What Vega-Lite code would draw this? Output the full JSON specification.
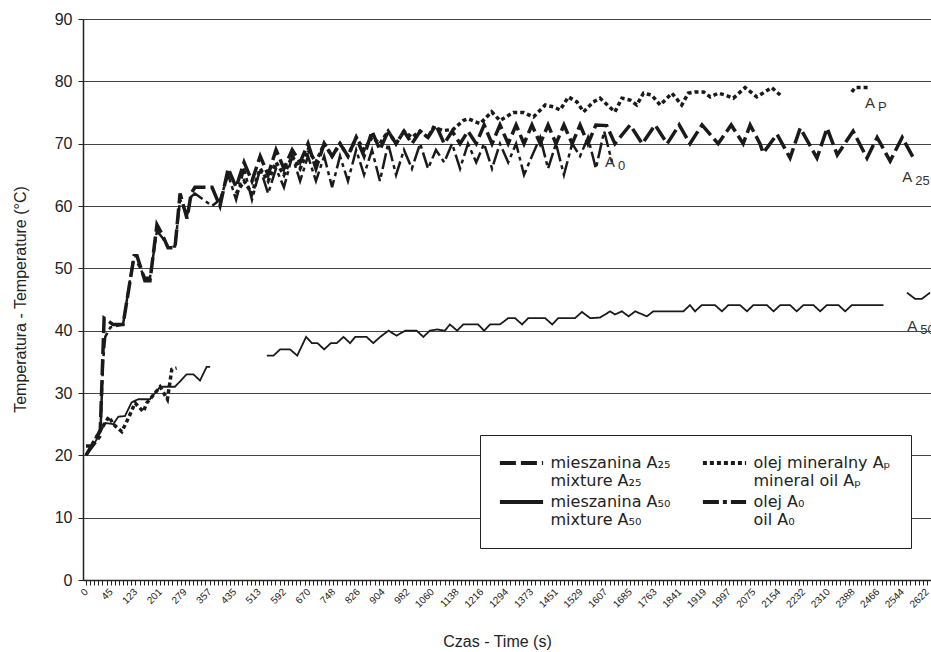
{
"$schema": "https://vega.github.io/schema/vega-lite/v6.json",
"width": 848, "height": 561,
"autosize": {"type": "none"},
"padding": {"left": 83, "top": 19, "right": 0, "bottom": 72},
"background": "white",
"config": {"view": {"stroke": null}, "font": "Liberation Sans"},
"encoding": {
  "x": {"field": "t", "type": "quantitative",
    "scale": {"domain": [-5.5, 45, 2635], "range": [0, 27.7, 848], "nice": false, "zero": false},
    "axis": {"values": [0,7.5,15,22.5,30,37.5,45,58,71,84,97,110,123,136,149,162,175,188,201,214,227,240,253,266,279,292,305,318,331,344,357,370,383,396,409,422,435,448,461,474,487,500,513,526,539,552,565,578,592,605,618,631,644,657,670,683,696,709,722,735,748,761,774,787,800,813,826,839,852,865,878,891,904,917,930,943,956,969,982,995,1008,1021,1034,1047,1060,1073,1086,1099,1112,1125,1138,1151,1164,1177,1190,1203,1216,1229,1242,1255,1268,1281,1294,1307,1320,1334,1347,1360,1373,1386,1399,1412,1425,1438,1451,1464,1477,1490,1503,1516,1529,1542,1555,1568,1581,1594,1607,1620,1633,1646,1659,1672,1685,1698,1711,1724,1737,1750,1763,1776,1789,1802,1815,1828,1841,1854,1867,1880,1893,1906,1919,1932,1945,1958,1971,1984,1997,2010,2023,2036,2049,2062,2075,2088,2101,2114,2128,2141,2154,2167,2180,2193,2206,2219,2232,2245,2258,2271,2284,2297,2310,2323,2336,2349,2362,2375,2388,2401,2414,2427,2440,2453,2466,2479,2492,2505,2518,2531,2544,2557,2570,2583,2596,2609,2622],
      "labelExpr": "indexof([0,45,123,201,279,357,435,513,592,670,748,826,904,982,1060,1138,1216,1294,1373,1451,1529,1607,1685,1763,1841,1919,1997,2075,2154,2232,2310,2388,2466,2544,2622], datum.value) >= 0 ? '' + datum.value : ''",
      "labelAngle": -45, "labelAlign": "right", "labelBaseline": "middle", "labelFontSize": 10, "labelOverlap": false, "labelBound": false, "labelFlush": false, "labelPadding": 5,
      "labelColor": "#222", "tickSize": 5, "tickColor": "#222", "domainColor": "#222", "domainWidth": 1.5, "grid": false,
      "title": "Czas  -  Time (s)", "titleFontSize": 16, "titleFontWeight": "normal", "titleColor": "#222",
      "titleX": 414, "titleY": 66, "titleAlign": "center", "titleBaseline": "alphabetic"}},
  "y": {"field": "v", "type": "quantitative",
    "scale": {"domain": [0, 90], "nice": false, "zero": true},
    "axis": {"values": [0,10,20,30,40,50,60,70,80,90], "grid": true, "gridColor": "#444", "gridWidth": 1,
      "tickSize": 5, "tickColor": "#222", "domainColor": "#222", "domainWidth": 1.5,
      "labelFontSize": 16, "labelPadding": 6, "labelColor": "#222",
      "title": "Temperatura - Temperature (°C)", "titleFontSize": 16, "titleFontWeight": "normal", "titleColor": "#222",
      "titleX": -63, "titleY": 280, "titleAngle": -90, "titleAlign": "center", "titleBaseline": "middle"}}
},
"data": {"values": [
{"s":"A25","g":1,"t":0,"v":20},{"s":"A25","g":1,"t":26,"v":24},{"s":"A25","g":1,"t":33,"v":42},{"s":"A25","g":1,"t":52,"v":41},{"s":"A25","g":1,"t":84,"v":41},{"s":"A25","g":1,"t":119,"v":52},{"s":"A25","g":1,"t":128,"v":52},{"s":"A25","g":1,"t":153,"v":48},{"s":"A25","g":1,"t":169,"v":48},{"s":"A25","g":1,"t":191,"v":57},{"s":"A25","g":1,"t":207,"v":55.5},{"s":"A25","g":1,"t":226,"v":53.3},{"s":"A25","g":1,"t":248,"v":53.3},{"s":"A25","g":1,"t":264,"v":62},{"s":"A25","g":1,"t":286,"v":58},{"s":"A25","g":1,"t":299,"v":62},{"s":"A25","g":1,"t":311,"v":63},{"s":"A25","g":1,"t":365,"v":63},{"s":"A25","g":1,"t":390,"v":60},{"s":"A25","g":1,"t":416,"v":66},{"s":"A25","g":1,"t":441,"v":63},{"s":"A25","g":1,"t":466,"v":67},{"s":"A25","g":1,"t":491,"v":64},{"s":"A25","g":1,"t":517,"v":68},{"s":"A25","g":1,"t":542,"v":65},{"s":"A25","g":1,"t":567,"v":69},{"s":"A25","g":1,"t":592,"v":66},{"s":"A25","g":1,"t":618,"v":69},{"s":"A25","g":1,"t":643,"v":67},{"s":"A25","g":1,"t":668,"v":70},{"s":"A25","g":1,"t":693,"v":66},{"s":"A25","g":1,"t":719,"v":70},{"s":"A25","g":1,"t":744,"v":68},{"s":"A25","g":1,"t":769,"v":70},{"s":"A25","g":1,"t":794,"v":68},{"s":"A25","g":1,"t":820,"v":71},{"s":"A25","g":1,"t":845,"v":68},{"s":"A25","g":1,"t":870,"v":72},{"s":"A25","g":1,"t":895,"v":69},{"s":"A25","g":1,"t":921,"v":72},{"s":"A25","g":1,"t":946,"v":70},{"s":"A25","g":1,"t":971,"v":72},{"s":"A25","g":1,"t":996,"v":70},{"s":"A25","g":1,"t":1022,"v":72},{"s":"A25","g":1,"t":1047,"v":71},{"s":"A25","g":1,"t":1072,"v":73},{"s":"A25","g":1,"t":1098,"v":70},{"s":"A25","g":1,"t":1123,"v":72},{"s":"A25","g":1,"t":1148,"v":70},{"s":"A25","g":1,"t":1173,"v":72},{"s":"A25","g":1,"t":1199,"v":70},{"s":"A25","g":1,"t":1224,"v":73},{"s":"A25","g":1,"t":1249,"v":70},{"s":"A25","g":1,"t":1274,"v":73},{"s":"A25","g":1,"t":1300,"v":70},{"s":"A25","g":1,"t":1325,"v":73},{"s":"A25","g":1,"t":1350,"v":70},{"s":"A25","g":1,"t":1375,"v":73},{"s":"A25","g":1,"t":1401,"v":70},{"s":"A25","g":1,"t":1426,"v":73},{"s":"A25","g":1,"t":1451,"v":70},{"s":"A25","g":1,"t":1476,"v":73},{"s":"A25","g":1,"t":1502,"v":70},{"s":"A25","g":1,"t":1527,"v":73},{"s":"A25","g":1,"t":1552,"v":70},{"s":"A25","g":1,"t":1577,"v":73},{"s":"A25","g":1,"t":1611,"v":72.9},{"s":"A25","g":1,"t":1637,"v":70},{"s":"A25","g":1,"t":1685,"v":73},{"s":"A25","g":1,"t":1723,"v":70},{"s":"A25","g":1,"t":1764,"v":73},{"s":"A25","g":1,"t":1802,"v":70},{"s":"A25","g":1,"t":1840,"v":73},{"s":"A25","g":1,"t":1874,"v":70},{"s":"A25","g":1,"t":1912,"v":73},{"s":"A25","g":1,"t":1963,"v":70},{"s":"A25","g":1,"t":2004,"v":73},{"s":"A25","g":1,"t":2042,"v":70},{"s":"A25","g":1,"t":2064,"v":73},{"s":"A25","g":1,"t":2095,"v":70},{"s":"A25","g":1,"t":2105,"v":68.5},{"s":"A25","g":1,"t":2149,"v":71.5},{"s":"A25","g":1,"t":2190,"v":67.7},{"s":"A25","g":1,"t":2222,"v":72.5},{"s":"A25","g":1,"t":2275,"v":67.7},{"s":"A25","g":1,"t":2307,"v":72.5},{"s":"A25","g":1,"t":2339,"v":68.2},{"s":"A25","g":1,"t":2389,"v":72},{"s":"A25","g":1,"t":2433,"v":67.7},{"s":"A25","g":1,"t":2465,"v":71},{"s":"A25","g":1,"t":2506,"v":67.2},{"s":"A25","g":1,"t":2544,"v":71},{"s":"A25","g":1,"t":2585,"v":67.2},
{"s":"A0","g":1,"t":0,"v":20},{"s":"A0","g":1,"t":26,"v":23},{"s":"A0","g":1,"t":31,"v":35},{"s":"A0","g":1,"t":35,"v":39},{"s":"A0","g":1,"t":44,"v":40.5},{"s":"A0","g":1,"t":84,"v":41},{"s":"A0","g":1,"t":115,"v":51},{"s":"A0","g":1,"t":128,"v":51},{"s":"A0","g":1,"t":153,"v":48.5},{"s":"A0","g":1,"t":169,"v":48.5},{"s":"A0","g":1,"t":191,"v":56},{"s":"A0","g":1,"t":207,"v":55},{"s":"A0","g":1,"t":226,"v":53.5},{"s":"A0","g":1,"t":248,"v":53.5},{"s":"A0","g":1,"t":264,"v":61},{"s":"A0","g":1,"t":286,"v":58.5},{"s":"A0","g":1,"t":299,"v":61.5},{"s":"A0","g":1,"t":311,"v":62},{"s":"A0","g":1,"t":365,"v":60},{"s":"A0","g":1,"t":390,"v":61},{"s":"A0","g":1,"t":416,"v":65},{"s":"A0","g":1,"t":441,"v":61},{"s":"A0","g":1,"t":466,"v":66},{"s":"A0","g":1,"t":491,"v":61},{"s":"A0","g":1,"t":517,"v":66},{"s":"A0","g":1,"t":542,"v":62},{"s":"A0","g":1,"t":567,"v":66},{"s":"A0","g":1,"t":592,"v":63},{"s":"A0","g":1,"t":618,"v":68},{"s":"A0","g":1,"t":643,"v":64},{"s":"A0","g":1,"t":668,"v":68},{"s":"A0","g":1,"t":693,"v":64},{"s":"A0","g":1,"t":719,"v":68},{"s":"A0","g":1,"t":744,"v":63},{"s":"A0","g":1,"t":769,"v":68},{"s":"A0","g":1,"t":794,"v":64},{"s":"A0","g":1,"t":820,"v":69},{"s":"A0","g":1,"t":845,"v":65},{"s":"A0","g":1,"t":870,"v":69},{"s":"A0","g":1,"t":895,"v":64},{"s":"A0","g":1,"t":921,"v":70},{"s":"A0","g":1,"t":946,"v":65},{"s":"A0","g":1,"t":971,"v":69},{"s":"A0","g":1,"t":996,"v":66},{"s":"A0","g":1,"t":1022,"v":70},{"s":"A0","g":1,"t":1047,"v":66},{"s":"A0","g":1,"t":1072,"v":69},{"s":"A0","g":1,"t":1098,"v":67},{"s":"A0","g":1,"t":1123,"v":70},{"s":"A0","g":1,"t":1148,"v":66},{"s":"A0","g":1,"t":1173,"v":70},{"s":"A0","g":1,"t":1199,"v":67},{"s":"A0","g":1,"t":1224,"v":70},{"s":"A0","g":1,"t":1249,"v":66},{"s":"A0","g":1,"t":1274,"v":70},{"s":"A0","g":1,"t":1300,"v":67},{"s":"A0","g":1,"t":1325,"v":70},{"s":"A0","g":1,"t":1350,"v":65},{"s":"A0","g":1,"t":1375,"v":68},{"s":"A0","g":1,"t":1401,"v":71},{"s":"A0","g":1,"t":1426,"v":66},{"s":"A0","g":1,"t":1451,"v":70},{"s":"A0","g":1,"t":1476,"v":65},{"s":"A0","g":1,"t":1502,"v":70},{"s":"A0","g":1,"t":1527,"v":68},{"s":"A0","g":1,"t":1552,"v":71},{"s":"A0","g":1,"t":1577,"v":66},{"s":"A0","g":1,"t":1603,"v":72},{"s":"A0","g":1,"t":1628,"v":67},
{"s":"AP","g":1,"t":0,"v":21.5},{"s":"AP","g":1,"t":10,"v":21.5},{"s":"AP","g":1,"t":26,"v":24},{"s":"AP","g":1,"t":42,"v":26.2},{"s":"AP","g":1,"t":53,"v":25},{"s":"AP","g":1,"t":80,"v":23.8},{"s":"AP","g":1,"t":101,"v":26},{"s":"AP","g":1,"t":122,"v":28.4},{"s":"AP","g":1,"t":148,"v":27},{"s":"AP","g":1,"t":159,"v":28.4},{"s":"AP","g":1,"t":201,"v":31},{"s":"AP","g":1,"t":224,"v":29},{"s":"AP","g":1,"t":238,"v":33.8},{"s":"AP","g":1,"t":253,"v":34},
{"s":"AP","g":2,"t":441,"v":62},{"s":"AP","g":2,"t":466,"v":64},{"s":"AP","g":2,"t":491,"v":62},{"s":"AP","g":2,"t":517,"v":66},{"s":"AP","g":2,"t":542,"v":64},{"s":"AP","g":2,"t":567,"v":67},{"s":"AP","g":2,"t":592,"v":65},{"s":"AP","g":2,"t":618,"v":68},{"s":"AP","g":2,"t":643,"v":66},{"s":"AP","g":2,"t":668,"v":69},{"s":"AP","g":2,"t":693,"v":67},{"s":"AP","g":2,"t":719,"v":70},{"s":"AP","g":2,"t":744,"v":68},{"s":"AP","g":2,"t":769,"v":70},{"s":"AP","g":2,"t":794,"v":68},{"s":"AP","g":2,"t":820,"v":71},{"s":"AP","g":2,"t":845,"v":69},{"s":"AP","g":2,"t":870,"v":71},{"s":"AP","g":2,"t":895,"v":70},{"s":"AP","g":2,"t":921,"v":72},{"s":"AP","g":2,"t":946,"v":70},{"s":"AP","g":2,"t":971,"v":72},{"s":"AP","g":2,"t":996,"v":71},{"s":"AP","g":2,"t":1022,"v":72},{"s":"AP","g":2,"t":1047,"v":71},{"s":"AP","g":2,"t":1064,"v":72.6},{"s":"AP","g":2,"t":1095,"v":72.1},{"s":"AP","g":2,"t":1127,"v":72.3},{"s":"AP","g":2,"t":1158,"v":73.7},{"s":"AP","g":2,"t":1174,"v":74},{"s":"AP","g":2,"t":1211,"v":73.2},{"s":"AP","g":2,"t":1248,"v":75.1},{"s":"AP","g":2,"t":1274,"v":73.7},{"s":"AP","g":2,"t":1316,"v":75},{"s":"AP","g":2,"t":1348,"v":75},{"s":"AP","g":2,"t":1380,"v":74.3},{"s":"AP","g":2,"t":1417,"v":76.2},{"s":"AP","g":2,"t":1443,"v":75.9},{"s":"AP","g":2,"t":1464,"v":75.4},{"s":"AP","g":2,"t":1490,"v":77.5},{"s":"AP","g":2,"t":1517,"v":76.7},{"s":"AP","g":2,"t":1538,"v":75.1},{"s":"AP","g":2,"t":1569,"v":76.7},{"s":"AP","g":2,"t":1590,"v":77.3},{"s":"AP","g":2,"t":1637,"v":75.1},{"s":"AP","g":2,"t":1659,"v":77.3},{"s":"AP","g":2,"t":1685,"v":77},{"s":"AP","g":2,"t":1706,"v":76.2},{"s":"AP","g":2,"t":1727,"v":78.1},{"s":"AP","g":2,"t":1753,"v":77.8},{"s":"AP","g":2,"t":1780,"v":76.2},{"s":"AP","g":2,"t":1817,"v":78.1},{"s":"AP","g":2,"t":1848,"v":76.2},{"s":"AP","g":2,"t":1869,"v":78.1},{"s":"AP","g":2,"t":1890,"v":78.3},{"s":"AP","g":2,"t":1917,"v":78.3},{"s":"AP","g":2,"t":1938,"v":77.5},{"s":"AP","g":2,"t":1964,"v":78.1},{"s":"AP","g":2,"t":1985,"v":77.8},{"s":"AP","g":2,"t":2011,"v":77.3},{"s":"AP","g":2,"t":2048,"v":79},{"s":"AP","g":2,"t":2085,"v":77.5},{"s":"AP","g":2,"t":2132,"v":79},{"s":"AP","g":2,"t":2159,"v":77.8},
{"s":"AP","g":3,"t":2385,"v":78.3},{"s":"AP","g":3,"t":2395,"v":79},{"s":"AP","g":3,"t":2443,"v":79},
{"s":"A50","g":1,"t":0,"v":20},{"s":"A50","g":1,"t":16,"v":22},{"s":"A50","g":1,"t":35,"v":25.2},{"s":"A50","g":1,"t":53,"v":25},{"s":"A50","g":1,"t":69,"v":26.2},{"s":"A50","g":1,"t":90,"v":26.3},{"s":"A50","g":1,"t":111,"v":28.5},{"s":"A50","g":1,"t":132,"v":29},{"s":"A50","g":1,"t":169,"v":29},{"s":"A50","g":1,"t":201,"v":31},{"s":"A50","g":1,"t":248,"v":31},{"s":"A50","g":1,"t":285,"v":33},{"s":"A50","g":1,"t":306,"v":33},{"s":"A50","g":1,"t":327,"v":32},{"s":"A50","g":1,"t":348,"v":34.2},{"s":"A50","g":1,"t":359,"v":34.2},
{"s":"A50","g":2,"t":538,"v":36},{"s":"A50","g":2,"t":559,"v":36},{"s":"A50","g":2,"t":580,"v":37},{"s":"A50","g":2,"t":611,"v":37},{"s":"A50","g":2,"t":634,"v":36},{"s":"A50","g":2,"t":662,"v":39},{"s":"A50","g":2,"t":680,"v":38},{"s":"A50","g":2,"t":698,"v":38},{"s":"A50","g":2,"t":719,"v":37},{"s":"A50","g":2,"t":740,"v":38},{"s":"A50","g":2,"t":759,"v":38},{"s":"A50","g":2,"t":780,"v":39},{"s":"A50","g":2,"t":801,"v":38},{"s":"A50","g":2,"t":817,"v":39},{"s":"A50","g":2,"t":853,"v":39},{"s":"A50","g":2,"t":874,"v":38},{"s":"A50","g":2,"t":896,"v":39},{"s":"A50","g":2,"t":922,"v":40},{"s":"A50","g":2,"t":948,"v":39.2},{"s":"A50","g":2,"t":975,"v":40},{"s":"A50","g":2,"t":1011,"v":40},{"s":"A50","g":2,"t":1032,"v":39},{"s":"A50","g":2,"t":1053,"v":40},{"s":"A50","g":2,"t":1075,"v":40.2},{"s":"A50","g":2,"t":1100,"v":40},{"s":"A50","g":2,"t":1116,"v":41},{"s":"A50","g":2,"t":1139,"v":40},{"s":"A50","g":2,"t":1158,"v":41},{"s":"A50","g":2,"t":1205,"v":41},{"s":"A50","g":2,"t":1224,"v":40},{"s":"A50","g":2,"t":1243,"v":41},{"s":"A50","g":2,"t":1274,"v":41},{"s":"A50","g":2,"t":1300,"v":42},{"s":"A50","g":2,"t":1322,"v":42},{"s":"A50","g":2,"t":1344,"v":41},{"s":"A50","g":2,"t":1363,"v":42},{"s":"A50","g":2,"t":1417,"v":42},{"s":"A50","g":2,"t":1439,"v":41},{"s":"A50","g":2,"t":1458,"v":42},{"s":"A50","g":2,"t":1511,"v":42},{"s":"A50","g":2,"t":1533,"v":43},{"s":"A50","g":2,"t":1559,"v":42},{"s":"A50","g":2,"t":1590,"v":42.1},{"s":"A50","g":2,"t":1622,"v":43.1},{"s":"A50","g":2,"t":1637,"v":42.6},{"s":"A50","g":2,"t":1659,"v":43.1},{"s":"A50","g":2,"t":1680,"v":42.3},{"s":"A50","g":2,"t":1701,"v":43.1},{"s":"A50","g":2,"t":1738,"v":42.3},{"s":"A50","g":2,"t":1758,"v":43.1},{"s":"A50","g":2,"t":1853,"v":43.1},{"s":"A50","g":2,"t":1874,"v":44.1},{"s":"A50","g":2,"t":1890,"v":43.1},{"s":"A50","g":2,"t":1911,"v":44.1},{"s":"A50","g":2,"t":1953,"v":44.1},{"s":"A50","g":2,"t":1975,"v":43.1},{"s":"A50","g":2,"t":1995,"v":44.1},{"s":"A50","g":2,"t":2032,"v":44.1},{"s":"A50","g":2,"t":2054,"v":43.1},{"s":"A50","g":2,"t":2074,"v":44.1},{"s":"A50","g":2,"t":2117,"v":44.1},{"s":"A50","g":2,"t":2138,"v":43.1},{"s":"A50","g":2,"t":2159,"v":44.1},{"s":"A50","g":2,"t":2190,"v":44.1},{"s":"A50","g":2,"t":2211,"v":43.1},{"s":"A50","g":2,"t":2232,"v":44.1},{"s":"A50","g":2,"t":2264,"v":44.1},{"s":"A50","g":2,"t":2285,"v":43.1},{"s":"A50","g":2,"t":2306,"v":44.1},{"s":"A50","g":2,"t":2343,"v":44.1},{"s":"A50","g":2,"t":2364,"v":43.1},{"s":"A50","g":2,"t":2385,"v":44.1},{"s":"A50","g":2,"t":2485,"v":44.1},
{"s":"A50","g":3,"t":2559,"v":46.1},{"s":"A50","g":3,"t":2585,"v":45.1},{"s":"A50","g":3,"t":2606,"v":45.1},{"s":"A50","g":3,"t":2632,"v":46.1}
]},
"layer": [
  {"transform": [{"filter": "datum.s === 'A50'"}],
   "mark": {"type": "line", "strokeWidth": 1.8, "color": "#1a1a1a", "strokeCap": "butt"},
   "encoding": {"detail": {"field": "g"},
     "strokeDash": {"field": "s", "type": "nominal",
       "scale": {"domain": ["A25", "AP", "A50", "A0"], "range": [[16, 5], [4, 3], [1, 0], [16, 4, 4, 4]]},
       "legend": {"title": null, "orient": "none", "legendX": 397, "legendY": 416, "columns": 2, "direction": "horizontal",
         "symbolType": "M-3.6,0H3.6", "symbolSize": 144, "symbolStrokeWidth": 4, "symbolStrokeColor": "#1a1a1a", "symbolOffset": 13.5,
         "labelFont": "DejaVu Sans", "labelFontSize": 16, "labelColor": "#222", "labelOffset": 21, "labelLimit": 0, "labelBaseline": "middle",
         "columnPadding": 23, "rowPadding": 5, "padding": 20, "strokeColor": "#222", "fillColor": "white",
         "labelExpr": "datum.value === 'A25' ? ['mieszanina A₂₅', 'mixture A₂₅'] : datum.value === 'AP' ? ['olej mineralny Aₚ          ', 'mineral oil Aₚ'] : datum.value === 'A50' ? ['mieszanina A₅₀', 'mixture A₅₀'] : ['olej A₀', 'oil A₀']"}}}},
  {"transform": [{"filter": "datum.s === 'AP'"}],
   "mark": {"type": "line", "strokeWidth": 3.5, "color": "#1a1a1a", "strokeCap": "butt"},
   "encoding": {"detail": {"field": "g"}, "strokeDash": {"field": "s", "type": "nominal"}}},
  {"transform": [{"filter": "datum.s === 'A0'"}],
   "mark": {"type": "line", "strokeWidth": 2.5, "color": "#1a1a1a", "strokeCap": "butt"},
   "encoding": {"detail": {"field": "g"}, "strokeDash": {"field": "s", "type": "nominal"}}},
  {"transform": [{"filter": "datum.s === 'A25'"}],
   "mark": {"type": "line", "strokeWidth": 3.5, "color": "#1a1a1a", "strokeCap": "butt"},
   "encoding": {"detail": {"field": "g"}, "strokeDash": {"field": "s", "type": "nominal"}}},
  {"data": {"values": [
     {"t": 2427, "v": 76.5, "m": "A", "sub": "P"},
     {"t": 1606, "v": 67.1, "m": "A", "sub": "0"},
     {"t": 2544, "v": 64.7, "m": "A", "sub": "25"},
     {"t": 2560, "v": 40.8, "m": "A", "sub": "50"}]},
   "mark": {"type": "text", "align": "left", "baseline": "middle", "fontSize": 15, "color": "#333"},
   "encoding": {"text": {"field": "m"}}},
  {"data": {"values": [
     {"t": 2427, "v": 76.5, "m": "A", "sub": "P"},
     {"t": 1606, "v": 67.1, "m": "A", "sub": "0"},
     {"t": 2544, "v": 64.7, "m": "A", "sub": "25"},
     {"t": 2560, "v": 40.8, "m": "A", "sub": "50"}]},
   "mark": {"type": "text", "align": "left", "baseline": "middle", "fontSize": 13, "dx": 13, "dy": 4, "color": "#333"},
   "encoding": {"text": {"field": "sub"}}}
]
}
